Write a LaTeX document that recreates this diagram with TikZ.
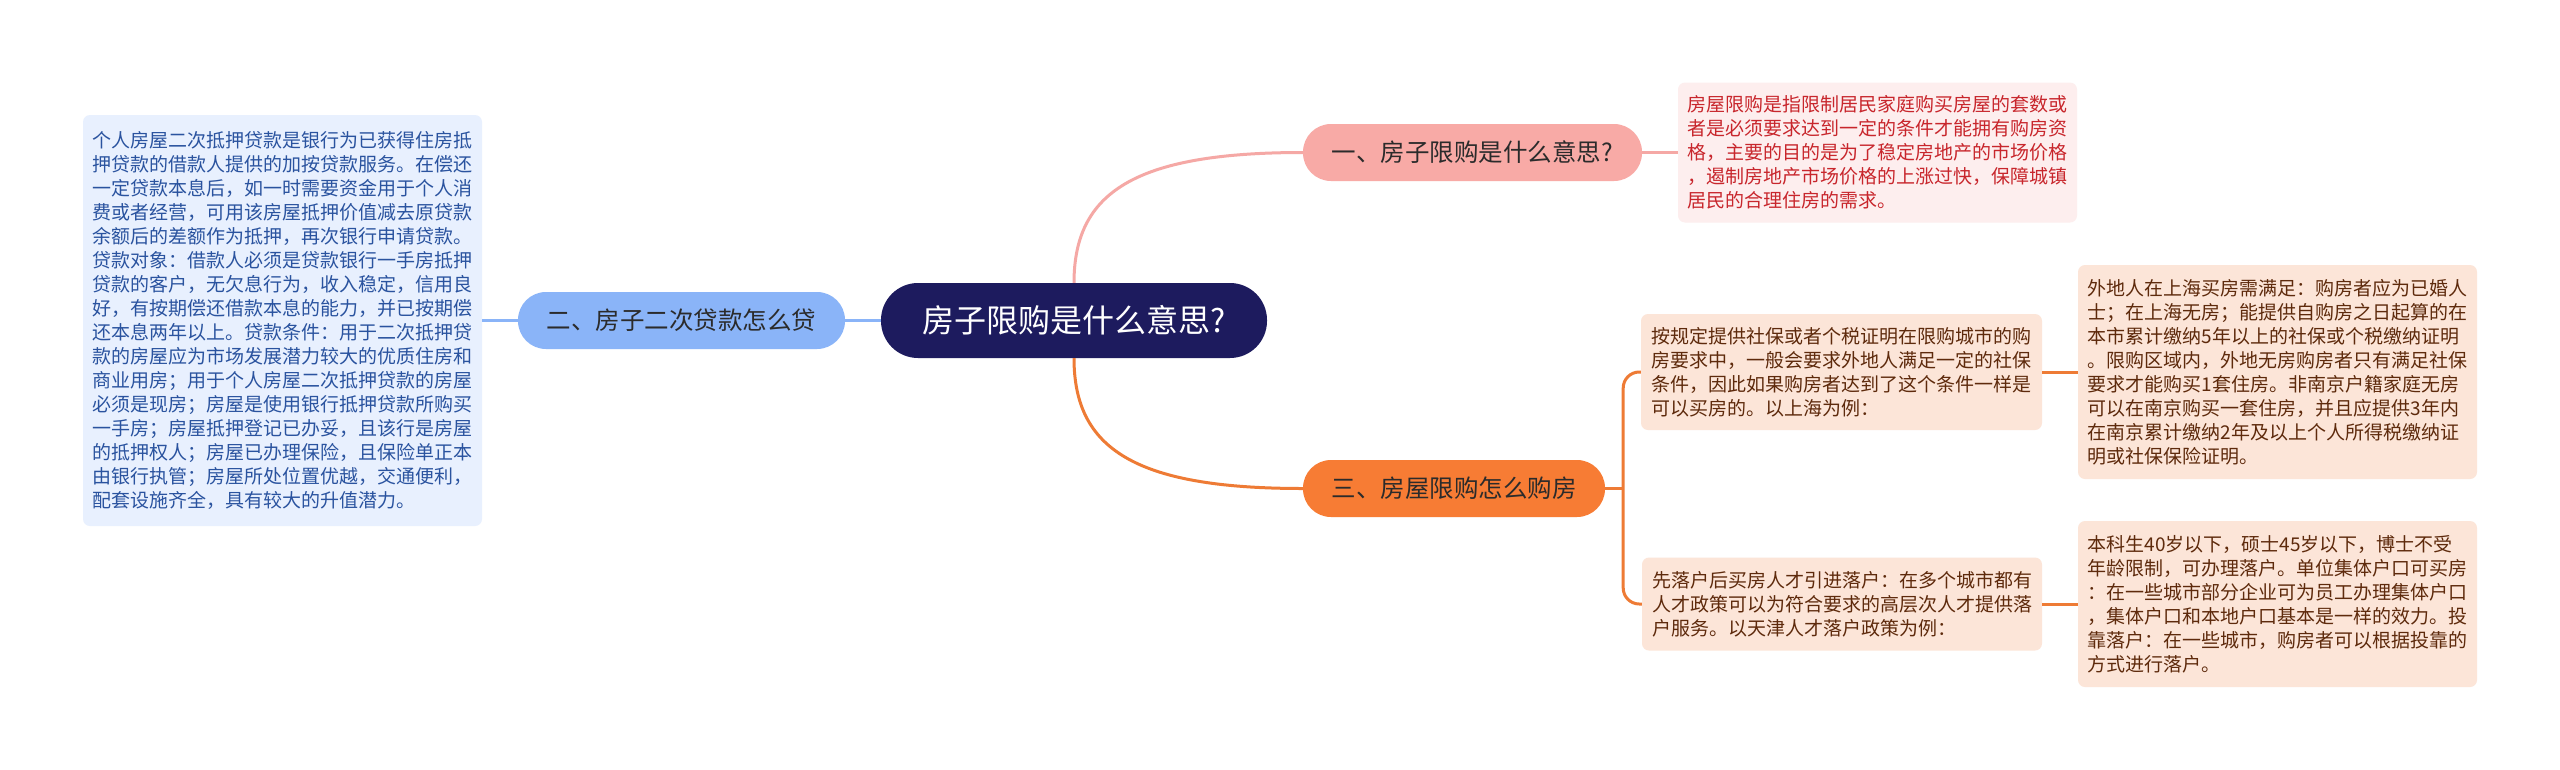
\documentclass[tikz,border=0pt]{standalone}
\usepackage{fontspec}
\setmainfont{Noto Sans CJK SC}
\usetikzlibrary{calc}
\definecolor{navy}{HTML}{1D1B5E}
\definecolor{pinkfill}{HTML}{F8AAA6}
\definecolor{pinkline}{HTML}{F5A8A5}
\definecolor{orangefill}{HTML}{F77C34}
\definecolor{orangeline}{HTML}{EE7B35}
\definecolor{bluefill}{HTML}{8AB4F8}
\definecolor{blueline}{HTML}{8AB4F8}
\definecolor{lbfill}{HTML}{E8F0FE}
\definecolor{lbtext}{HTML}{2A539F}
\definecolor{trfill}{HTML}{FDEEEE}
\definecolor{trtext}{HTML}{C8262C}
\definecolor{peach}{HTML}{FCE5D8}
\definecolor{peachtext}{HTML}{5E2A0C}
\definecolor{nodetext}{HTML}{2B2B2B}
\tikzset{
  txtbox/.style={rounded corners=7pt, inner sep=0pt, align=left,
    font=\fontsize{19}{24}\selectfont},
  pill/.style={rounded corners=28pt, inner sep=0pt, minimum height=57pt,
    text=nodetext, font=\fontsize{24.5}{28}\selectfont},
  conn/.style={line width=3pt},
}
\begin{document}
\begin{tikzpicture}[x=1pt,y=-1pt]
\useasboundingbox[fill=white] (0,0) rectangle (2560,769);
% central
\node[fill=navy, rounded corners=37pt, minimum width=386pt, minimum height=75pt,
  inner sep=0pt, text=white, font=\fontsize{32}{36}\selectfont] (c) at (1074,320.5) {房子限购是什么意思?};
% main branches
\node[pill, fill=pinkfill, minimum width=339pt] (n1) at (1472.5,152.5) {一、房子限购是什么意思?};
\node[pill, fill=bluefill, minimum width=327pt] (n2) at (681.5,320.5) {二、房子二次贷款怎么贷};
\node[pill, fill=orangefill, minimum width=302pt] (n3) at (1454,488.5) {三、房屋限购怎么购房};
% text boxes
\node[txtbox, fill=lbfill, text=lbtext, minimum width=399pt, minimum height=411pt] (lb) at (282.5,320.5) {%
个人房屋二次抵押贷款是银行为已获得住房抵\\
押贷款的借款人提供的加按贷款服务。在偿还\\
一定贷款本息后，如一时需要资金用于个人消\\
费或者经营，可用该房屋抵押价值减去原贷款\\
余额后的差额作为抵押，再次银行申请贷款。\\
贷款对象：借款人必须是贷款银行一手房抵押\\
贷款的客户，无欠息行为，收入稳定，信用良\\
好，有按期偿还借款本息的能力，并已按期偿\\
还本息两年以上。贷款条件：用于二次抵押贷\\
款的房屋应为市场发展潜力较大的优质住房和\\
商业用房；用于个人房屋二次抵押贷款的房屋\\
必须是现房；房屋是使用银行抵押贷款所购买\\
一手房；房屋抵押登记已办妥，且该行是房屋\\
的抵押权人；房屋已办理保险，且保险单正本\\
由银行执管；房屋所处位置优越，交通便利，\\
配套设施齐全，具有较大的升值潜力。};
\node[txtbox, fill=trfill, text=trtext, minimum width=399pt, minimum height=140pt] (tr) at (1877.5,152.5) {%
房屋限购是指限制居民家庭购买房屋的套数或\\
者是必须要求达到一定的条件才能拥有购房资\\
格，主要的目的是为了稳定房地产的市场价格\\
，遏制房地产市场价格的上涨过快，保障城镇\\
居民的合理住房的需求。};
\node[txtbox, fill=peach, text=peachtext, minimum width=401pt, minimum height=116pt] (m1) at (1841.5,372) {%
按规定提供社保或者个税证明在限购城市的购\\
房要求中，一般会要求外地人满足一定的社保\\
条件，因此如果购房者达到了这个条件一样是\\
可以买房的。以上海为例：};
\node[txtbox, fill=peach, text=peachtext, minimum width=399pt, minimum height=214pt] (r1) at (2277.5,372) {%
外地人在上海买房需满足：购房者应为已婚人\\
士；在上海无房；能提供自购房之日起算的在\\
本市累计缴纳5年以上的社保或个税缴纳证明\\
。限购区域内，外地无房购房者只有满足社保\\
要求才能购买1套住房。非南京户籍家庭无房\\
可以在南京购买一套住房，并且应提供3年内\\
在南京累计缴纳2年及以上个人所得税缴纳证\\
明或社保保险证明。};
\node[txtbox, fill=peach, text=peachtext, minimum width=400pt, minimum height=93pt] (m2) at (1842,604) {%
先落户后买房人才引进落户：在多个城市都有\\
人才政策可以为符合要求的高层次人才提供落\\
户服务。以天津人才落户政策为例：};
\node[txtbox, fill=peach, text=peachtext, minimum width=399pt, minimum height=166pt] (r2) at (2277.5,604) {%
本科生40岁以下，硕士45岁以下，博士不受\\
年龄限制，可办理落户。单位集体户口可买房\\
：在一些城市部分企业可为员工办理集体户口\\
，集体户口和本地户口基本是一样的效力。投\\
靠落户：在一些城市，购房者可以根据投靠的\\
方式进行落户。};
% connectors
\draw[conn, pinkline] (c.north) .. controls ($(c.north)+(0,-90)$) and ($(n1.west)+(-169,0)$) .. (n1.west);
\draw[conn, orangeline] (c.south) .. controls ($(c.south)+(0,90)$) and ($(n3.west)+(-169,0)$) .. (n3.west);
\draw[conn, blueline] (c.west) -- (n2.east);
\draw[conn, blueline] (n2.west) -- (lb.east);
\draw[conn, pinkline] (n1.east) -- (tr.west);
\coordinate (bx) at ($(n3.east)+(18,0)$);
\draw[conn, orangeline] (n3.east) -- (bx);
\draw[conn, orangeline, rounded corners=16pt] (m1.west) -| (bx) |- (m2.west);
\draw[conn, orangeline] (m1.east) -- (r1.west);
\draw[conn, orangeline] (m2.east) -- (r2.west);
\end{tikzpicture}
\end{document}
